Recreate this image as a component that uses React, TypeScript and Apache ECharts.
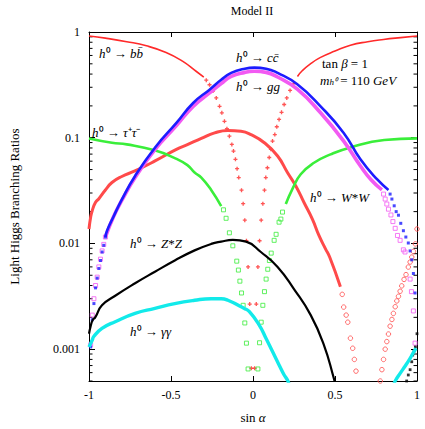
import React, { useEffect, useRef } from "react";
import * as echarts from "echarts";

const X_MIN = -1;
const X_MAX = 1;
const Y_MIN = 0.0005;
const Y_MAX = 1;
const xTickValues = [-1, -0.5, 0, 0.5, 1];
const yTickValues = [0.001, 0.01, 0.1, 1];
const yTickLabels = ["0.001", "0.01", "0.1", "1"];

// h0 -> b bbar (red +)
const bbLeft = [[-1, 0.916], [-0.9, 0.875], [-0.77, 0.81], [-0.65, 0.74], [-0.53, 0.64], [-0.43, 0.53], [-0.345, 0.423], [-0.3, 0.375]];
const bbDots = [[-0.285, 0.35], [-0.265, 0.317], [-0.244, 0.276], [-0.224, 0.238], [-0.204, 0.198], [-0.19, 0.172], [-0.174, 0.143], [-0.159, 0.1215], [-0.144, 0.1035], [-0.129, 0.0865], [-0.119, 0.0748], [-0.107, 0.0625], [-0.097, 0.051], [-0.087, 0.042], [-0.07, 0.0319], [-0.06, 0.0238], [-0.05, 0.0166], [-0.04, 0.0106], [-0.03, 0.006], [-0.02, 0.00267], [-0.01, 0.00066], [0.01, 0.00066], [0.02, 0.00267], [0.03, 0.006], [0.04, 0.0106], [0.05, 0.0166], [0.06, 0.0238], [0.07, 0.0319], [0.078, 0.042], [0.088, 0.052], [0.099, 0.065], [0.109, 0.0776], [0.119, 0.093], [0.133, 0.107], [0.145, 0.127], [0.159, 0.149], [0.174, 0.174], [0.19, 0.206], [0.206, 0.238], [0.226, 0.28], [0.247, 0.324]];
const bbRight = [[0.271, 0.38], [0.3, 0.43], [0.35, 0.5], [0.412, 0.575], [0.5, 0.66], [0.594, 0.75], [0.7, 0.81], [0.796, 0.85], [0.9, 0.885], [1, 0.916]];

// h0 -> tau+ tau- (green)
const tauLeft = [[-1, 0.0985], [-0.86, 0.0897], [-0.77, 0.0865], [-0.6, 0.076], [-0.48, 0.0645], [-0.4, 0.055], [-0.356, 0.0469], [-0.315, 0.042], [-0.255, 0.032], [-0.194, 0.0225]];
const tauDots = [[-0.18, 0.0208], [-0.164, 0.0173], [-0.144, 0.0126], [-0.123, 0.0095], [-0.099, 0.0068], [-0.089, 0.0056], [-0.08, 0.0044], [-0.07, 0.0034], [-0.06, 0.0026], [-0.05, 0.00177], [-0.04, 0.00114], [-0.03, 0.00065], [0.03, 0.00065], [0.04, 0.00115], [0.05, 0.0018], [0.06, 0.0026], [0.07, 0.0035], [0.08, 0.0046], [0.09, 0.0057], [0.1, 0.0069], [0.111, 0.0081], [0.129, 0.0107], [0.141, 0.0122], [0.159, 0.0159], [0.17, 0.017], [0.18, 0.0198]];
const tauRight = [[0.2, 0.0236], [0.24, 0.0327], [0.291, 0.0451], [0.372, 0.058], [0.473, 0.0696], [0.594, 0.081], [0.8, 0.095], [1, 0.0985]];

// h0 -> W*W (red circles)
const wwLine = [[-1, 0.0137], [-0.99, 0.0177], [-0.98, 0.0205], [-0.96, 0.0245], [-0.94, 0.0265], [-0.9, 0.032], [-0.86, 0.0377], [-0.8, 0.043], [-0.72, 0.0485], [-0.6, 0.06], [-0.467, 0.0776], [-0.4, 0.086], [-0.315, 0.0985], [-0.234, 0.111], [-0.153, 0.117], [-0.073, 0.115], [-0.012, 0.107], [0.069, 0.0897], [0.15, 0.0671], [0.21, 0.0469], [0.261, 0.035], [0.311, 0.0244], [0.362, 0.017], [0.402, 0.0119], [0.442, 0.0089], [0.468, 0.0074], [0.533, 0.0039]];
const wwDotsLeft = [[0.544, 0.0033], [0.553, 0.0025], [0.568, 0.0021], [0.578, 0.0018], [0.594, 0.00127], [0.608, 0.00102], [0.618, 0.0008], [0.628, 0.00062]];
const wwDotsRight = [[0.776, 0.0005], [0.786, 0.00064], [0.796, 0.0008], [0.806, 0.001], [0.816, 0.00118], [0.826, 0.00139], [0.836, 0.00165], [0.847, 0.00191], [0.856, 0.00218], [0.867, 0.00252], [0.877, 0.00286], [0.887, 0.00316], [0.897, 0.00353], [0.907, 0.00397], [0.921, 0.00457], [0.933, 0.00507], [0.947, 0.00598], [0.958, 0.00667], [0.968, 0.00743], [0.978, 0.0084], [0.99, 0.0099], [1, 0.0137]];

// h0 -> c cbar (blue)
const ccDotsLeft = [[-0.99, 0.00105], [-0.98, 0.0019], [-0.97, 0.0027], [-0.96, 0.0038], [-0.95, 0.0047], [-0.94, 0.0058], [-0.93, 0.0069], [-0.92, 0.0083], [-0.91, 0.0096], [-0.9, 0.0115]];
const ccLine = [[-0.9, 0.0115], [-0.89, 0.0132], [-0.85, 0.018], [-0.8, 0.026], [-0.719, 0.0435], [-0.598, 0.0805], [-0.467, 0.138], [-0.365, 0.213], [-0.265, 0.285], [-0.194, 0.353], [-0.133, 0.41], [-0.05, 0.45], [0.008, 0.46], [0.08, 0.45], [0.15, 0.41], [0.27, 0.32], [0.412, 0.198], [0.553, 0.111], [0.655, 0.0625], [0.756, 0.0405], [0.826, 0.0321]];
const ccDotsRight = [[0.836, 0.0293], [0.847, 0.0263], [0.861, 0.0227], [0.873, 0.02], [0.887, 0.0185], [0.901, 0.0155], [0.917, 0.0132], [0.932, 0.0115], [0.947, 0.0101], [0.958, 0.0085], [0.968, 0.007], [0.978, 0.0052], [0.988, 0.0034]];

// h0 -> g g (magenta)
const ggDotsLeft = [[-0.99, 0.0011], [-0.98, 0.0021], [-0.97, 0.003], [-0.96, 0.004], [-0.95, 0.0048], [-0.94, 0.006], [-0.93, 0.0071], [-0.92, 0.0085], [-0.91, 0.0098], [-0.9, 0.0115]];
const ggLine = [[-0.9, 0.0115], [-0.85, 0.018], [-0.8, 0.0255], [-0.719, 0.042], [-0.598, 0.077], [-0.467, 0.13], [-0.365, 0.198], [-0.265, 0.265], [-0.194, 0.325], [-0.133, 0.38], [-0.05, 0.415], [0.008, 0.425], [0.08, 0.415], [0.15, 0.375], [0.27, 0.288], [0.412, 0.172], [0.553, 0.093], [0.655, 0.054], [0.72, 0.04], [0.786, 0.0321]];
const ggDotsRight = [[0.796, 0.0293], [0.806, 0.0263], [0.816, 0.0236], [0.826, 0.0211], [0.841, 0.0186], [0.853, 0.0161], [0.867, 0.0139], [0.881, 0.0119], [0.897, 0.0107], [0.917, 0.0087], [0.927, 0.0083], [0.958, 0.0046], [0.966, 0.0035], [0.978, 0.0023], [0.988, 0.00114]];

// h0 -> Z*Z (black)
const zzLine = [[-1, 0.0014], [-0.99, 0.00165], [-0.978, 0.00188], [-0.962, 0.002], [-0.921, 0.0026], [-0.84, 0.0032], [-0.719, 0.0042], [-0.598, 0.0054], [-0.477, 0.0069], [-0.356, 0.0086], [-0.255, 0.0099], [-0.194, 0.0104], [-0.123, 0.0108], [-0.042, 0.0104], [0.048, 0.0083], [0.15, 0.006], [0.25, 0.0037], [0.352, 0.0021], [0.432, 0.0011], [0.493, 0.00053], [0.51, 0.00042]];
const zzDots = [[0.937, 0.0005], [0.947, 0.00057], [0.958, 0.00064], [0.968, 0.00076], [0.974, 0.00088], [0.982, 0.00096], [0.99, 0.00105], [1, 0.0014]];

// h0 -> gamma gamma (cyan)
const aaLeft = [[-1, 0.00105], [-0.98, 0.00122], [-0.972, 0.00131], [-0.921, 0.00157], [-0.84, 0.00182], [-0.719, 0.00218], [-0.598, 0.00243], [-0.477, 0.0027], [-0.356, 0.0029], [-0.255, 0.003], [-0.194, 0.003], [-0.153, 0.0029], [-0.053, 0.00243], [-0.022, 0.00226], [0.038, 0.00169], [0.079, 0.00127], [0.119, 0.00095], [0.159, 0.00071], [0.19, 0.00057], [0.21, 0.00051], [0.222, 0.00045]];
const aaRight = [[0.86, 0.00047], [0.867, 0.0005], [0.897, 0.00059], [0.927, 0.00069], [0.958, 0.00082], [0.978, 0.00093], [0.994, 0.00102]];

const FONT = "Liberation Serif, serif";
const RED = "#ff2a2a";
const WWRED = "#ff4a4a";
const GREEN = "#3aee3a";
const BLUE = "#1c1cff";
const MAGENTA = "#f25af2";
const CYAN = "#12eaea";

const minorTicks: number[] = [];
for (let e = -4; e <= -1; e++) {
  for (let m = 2; m <= 9; m++) {
    const v = m * Math.pow(10, e);
    if (v >= Y_MIN && v < Y_MAX) minorTicks.push(v);
  }
}

const PLUS = "path://M2,0H4V2H6V4H4V6H2V4H0V2H2Z";

function lineSeries(data: number[][], color: string, width: number, z: number) {
  return {
    type: "line",
    data,
    showSymbol: false,
    smooth: 0.5,
    clip: true,
    silent: true,
    z,
    lineStyle: { color, width },
    itemStyle: { color },
  };
}

function dotSeries(data: number[][], symbol: string, size: number, color: string, filled: boolean, z: number) {
  return {
    type: "scatter",
    data,
    symbol,
    symbolSize: size,
    clip: true,
    silent: true,
    z,
    itemStyle: filled
      ? { color }
      : { color: "rgba(255,255,255,0)", borderColor: color, borderWidth: 1 },
  };
}

const rich = {
  i: { fontStyle: "italic", fontFamily: FONT, fontSize: 13 },
  sub: { fontStyle: "italic", fontFamily: FONT, fontSize: 9, verticalAlign: "bottom" },
};

function label(text: string, x: number, y: number) {
  return {
    type: "text",
    x,
    y,
    silent: true,
    style: {
      text,
      fontFamily: FONT,
      fontSize: 13,
      fill: "#000",
      align: "left",
      verticalAlign: "middle",
      rich,
    },
  };
}

export default function App() {
  const ref = useRef<HTMLDivElement>(null);
  useEffect(() => {
    document.body.style.margin = "0";
    if (!ref.current) return;
    const chart = echarts.init(ref.current, null, { renderer: "svg" });
    const axisCommon = {
      splitLine: { show: false },
      axisLine: { show: true, onZero: false, lineStyle: { color: "#000", width: 1 } },
      axisTick: { show: true, inside: true, length: 5, lineStyle: { color: "#000" } },
    };
    chart.setOption({
      animation: false,
      backgroundColor: "#fff",
      textStyle: { fontFamily: FONT },
      grid: { left: 87, right: 8, top: 32, bottom: 46, containLabel: false },
      xAxis: [
        {
          ...axisCommon,
          type: "value",
          min: X_MIN,
          max: X_MAX,
          interval: 0.5,
          position: "bottom",
          axisLabel: {
            margin: 8,
            fontFamily: FONT,
            fontSize: 12,
            color: "#000",
            formatter: (v: number) => {
              const i = xTickValues.findIndex((t) => Math.abs(t - v) < 1e-9);
              return i >= 0 ? String(xTickValues[i]) : "";
            },
          },
          name: "sin {i|α}",
          nameLocation: "middle",
          nameGap: 30,
          nameTextStyle: { fontFamily: FONT, fontSize: 13, color: "#000", rich },
        },
        {
          ...axisCommon,
          type: "value",
          min: X_MIN,
          max: X_MAX,
          interval: 0.5,
          position: "top",
          axisLabel: { show: false },
        },
      ],
      yAxis: [
        {
          ...axisCommon,
          type: "log",
          logBase: 10,
          min: Y_MIN,
          max: Y_MAX,
          position: "left",
          axisTick: { show: true, inside: true, length: 6, lineStyle: { color: "#000" } },
          axisLabel: {
            margin: 9,
            fontFamily: FONT,
            fontSize: 12,
            color: "#000",
            showMinLabel: false,
            formatter: (v: number) => {
              const i = yTickValues.findIndex((t) => Math.abs(Math.log10(t) - Math.log10(v)) < 0.01);
              return i >= 0 ? yTickLabels[i] : "";
            },
          },
          name: "Light Higgs Branching Ratios",
          nameLocation: "middle",
          nameGap: 68,
          nameRotate: 90,
          nameTextStyle: { fontFamily: FONT, fontSize: 13, color: "#000" },
        },
        {
          ...axisCommon,
          type: "log",
          logBase: 10,
          min: Y_MIN,
          max: Y_MAX,
          position: "right",
          axisTick: { show: true, inside: true, length: 6, lineStyle: { color: "#000" } },
          axisLabel: { show: false },
        },
      ],
      graphic: [
        {
          type: "text",
          x: 252,
          y: 11,
          silent: true,
          style: { text: "Model II", fontFamily: FONT, fontSize: 12, fill: "#000", align: "center", verticalAlign: "middle" },
        },
        label("{i|h}⁰ → {i|bb̄}", 99, 53),
        label("{i|h}⁰ → {i|τ}⁺{i|τ}⁻", 92, 132),
        label("{i|h}⁰ → {i|cc̄}", 236, 57),
        label("{i|h}⁰ → {i|gg}", 236, 86),
        label("tan {i|β} = 1", 322, 63),
        label("{i|m}{sub|h⁰} = 110 {i|GeV}", 320, 80),
        label("{i|h}⁰ → {i|W}*{i|W}", 310, 197),
        label("{i|h}⁰ → {i|Z}*{i|Z}", 130, 243),
        label("{i|h}⁰ → {i|γγ}", 130, 331),
      ],
      series: [
        {
          type: "custom",
          silent: true,
          clip: false,
          z: 1,
          data: minorTicks.map((v) => [X_MIN, v]),
          encode: { x: 0, y: 1 },
          renderItem: (_p: any, api: any) => {
            const v = api.value(1);
            const l = api.coord([X_MIN, v]);
            const r = api.coord([X_MAX, v]);
            return {
              type: "group",
              children: [
                { type: "line", shape: { x1: l[0], y1: l[1], x2: l[0] + 3.5, y2: l[1] }, style: { stroke: "#000", lineWidth: 1 } },
                { type: "line", shape: { x1: r[0] - 3.5, y1: r[1], x2: r[0], y2: r[1] }, style: { stroke: "#000", lineWidth: 1 } },
              ],
            };
          },
        },
        lineSeries(bbLeft, RED, 1.6, 3),
        dotSeries(bbDots, PLUS, 4, RED, true, 3),
        lineSeries(bbRight, RED, 1.6, 3),
        lineSeries(wwLine, WWRED, 3, 4),
        dotSeries(wwDotsLeft, "circle", 4.5, WWRED, false, 4),
        dotSeries(wwDotsRight, "circle", 4.5, WWRED, false, 4),
        lineSeries(tauLeft, GREEN, 2.6, 5),
        dotSeries(tauDots, "rect", 4, GREEN, false, 5),
        lineSeries(tauRight, GREEN, 2.6, 5),
        dotSeries(ggDotsLeft, "rect", 4, MAGENTA, false, 6),
        lineSeries(ggLine, MAGENTA, 3.6, 6),
        dotSeries(ggDotsRight, "rect", 4, MAGENTA, false, 6),
        dotSeries(ccDotsLeft, "rect", 3, BLUE, true, 7),
        lineSeries(ccLine, BLUE, 2.6, 7),
        dotSeries(ccDotsRight, "rect", 3, BLUE, true, 7),
        lineSeries(zzLine, "#000", 2.2, 8),
        dotSeries(zzDots, "rect", 2.8, "#000", true, 8),
        lineSeries(aaLeft, CYAN, 3.4, 9),
        lineSeries(aaRight, CYAN, 3.4, 9),
      ],
    });
    return () => chart.dispose();
  }, []);
  return <div ref={ref} style={{ width: 425, height: 429 }} />;
}
